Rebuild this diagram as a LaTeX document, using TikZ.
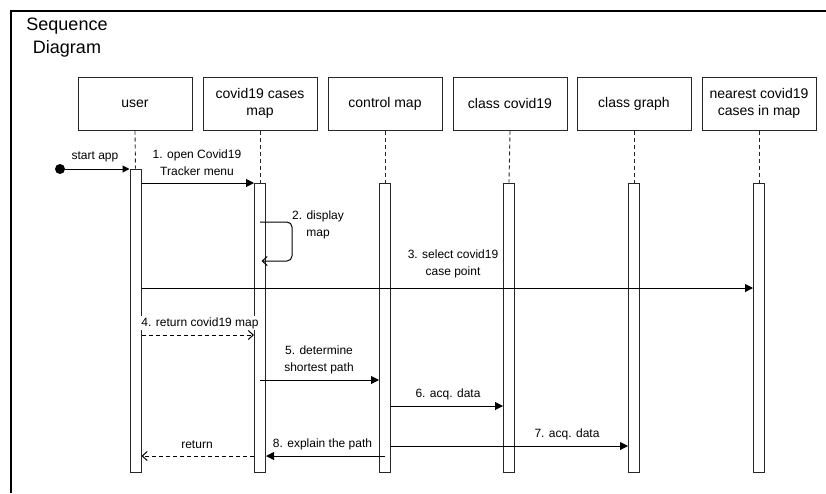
\documentclass[tikz,border=0pt]{standalone}
\usepackage{fontspec}
\setmainfont{Liberation Sans}
\usetikzlibrary{arrows.meta}
\begin{document}
\begin{tikzpicture}[x=1pt,y=-1pt,
  frame/.style={line width=1.3pt,draw=black},
  headbox/.style={draw=black!85,line width=1pt,minimum width=114pt,minimum height=53pt,align=center,inner sep=1pt,font=\fontsize{14}{17.5}\selectfont},
  actbox/.style={draw=black!85,line width=1pt,fill=white,minimum width=11pt,inner sep=0pt},
  lifeline/.style={draw=black!85,line width=0.9pt,dash pattern=on 4pt off 3pt},
  msg/.style={draw=black,line width=1pt,-{Triangle[length=8pt,width=8pt]}},
  ret/.style={draw=black,line width=1pt,dash pattern=on 4pt off 3pt,-{Straight Barb[length=5pt,width=9pt]}},
  lbl/.style={align=center,inner sep=1pt,font=\fontsize{12}{17}\selectfont}
]
\useasboundingbox (0,0) rectangle (826,493);
% frame
\draw[frame] (11,493) -- (11,11) -- (826,11);
\node[font=\fontsize{18}{23}\selectfont,align=center] (title) at (67,38) {Sequence\\Diagram};

% header boxes
\node[headbox] (hu) at (135,103.5) {user};
\node[headbox] (hc) at (260,103.5) {covid19 cases\\map};
\node[headbox] (hm) at (385,103.5) {control map};
\node[headbox] (hv) at (510,103.5) {class covid19};
\node[headbox] (hg) at (634,103.5) {class graph};
\node[headbox] (hn) at (759,103.5) {nearest covid19\\cases in map};

% activations
\node[actbox,minimum height=303pt] (au) at (135.5,320.5) {};
\node[actbox,minimum height=289pt] (ac) at (260,327.5) {};
\node[actbox,minimum height=289pt] (am) at (385,327.5) {};
\node[actbox,minimum height=289pt] (av) at (509,327.5) {};
\node[actbox,minimum height=289pt] (ag) at (634,327.5) {};
\node[actbox,minimum height=289pt] (an) at (759,327.5) {};

% lifelines
\draw[lifeline] (hu.south) -- (au.north);
\draw[lifeline] (hc.south) -- (ac.north);
\draw[lifeline] (hm.south) -- (am.north);
\draw[lifeline] (hv.south) -- (av.north);
\draw[lifeline] (hg.south) -- (ag.north);
\draw[lifeline] (hn.south) -- (an.north);

% start
\node[circle,fill=black,minimum size=10pt,inner sep=0pt] (start) at (60,169) {};
\draw[msg,-{Triangle[length=7pt,width=7pt]}] (start) -- (au.west |- start);
\node[lbl] (l0) at (95,157) {start app};

% 1
\coordinate (y1) at (0,183);
\draw[msg] (au.east |- y1) -- (ac.west |- y1);
\node[lbl] (l1) at (197,163) {1. open Covid19\\Tracker menu};

% 2 self call
\coordinate (y2a) at (0,222);
\coordinate (y2b) at (0,261);
\coordinate (c2) at (292,0);
\draw[draw=black,line width=1pt,rounded corners=5pt,-{Straight Barb[length=5pt,width=9pt]}]
  (ac.center |- y2a) -- (c2 |- y2a) -- (c2 |- y2b) -- ([xshift=1.5pt]ac.center |- y2b);
\node[lbl] (l2) at (318,224.5) {2. display\\map};

% 3
\coordinate (y3) at (0,288);
\draw[msg] (au.east |- y3) -- (an.west |- y3);
\node[lbl] (l3) at (453,263.5) {3. select covid19\\case point};

% 4
\coordinate (y4) at (0,335);
\draw[ret] (au.east |- y4) -- (ac.west |- y4);
\node[lbl,fill=white] (l4) at (200,323) {4. return covid19 map};

% 5
\coordinate (y5) at (0,380);
\draw[msg] (ac.center |- y5) -- (am.west |- y5);
\node[lbl] (l5) at (319,359.5) {5. determine\\shortest path};

% 6
\coordinate (y6) at (0,406);
\draw[msg] (am.east |- y6) -- (av.west |- y6);
\node[lbl] (l6) at (448,394) {6. acq. data};

% 7
\coordinate (y7) at (0,446);
\draw[msg] (am.east |- y7) -- (ag.west |- y7);
\node[lbl] (l7) at (567,434) {7. acq. data};

% 8
\coordinate (y8) at (0,456);
\draw[msg] (am.center |- y8) -- (ac.east |- y8);
\node[lbl] (l8) at (322.5,444) {8. explain the path};

% return
\draw[ret] (ac.west |- y8) -- (au.east |- y8);
\node[lbl] (l9) at (197,445) {return};
\end{tikzpicture}
\end{document}
